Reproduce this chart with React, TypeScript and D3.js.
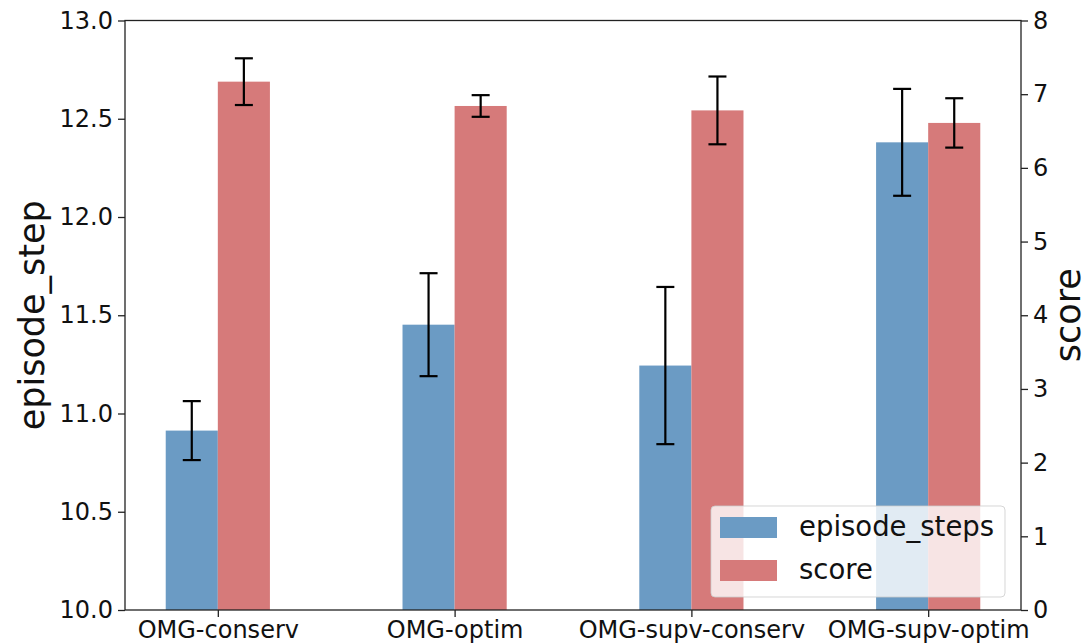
import React, { useEffect, useRef } from "react";
import * as d3 from "d3";

const categories = ["OMG-conserv", "OMG-optim", "OMG-supv-conserv", "OMG-supv-optim"];
const stepMeans = [10.913, 11.452, 11.244, 12.38];
const stepErrs = [0.15, 0.262, 0.4, 0.272];
const scoreMeans = [7.17, 6.84, 6.78, 6.61];
const scoreErrs = [0.317, 0.147, 0.46, 0.335];
const stepTicks = [10.0, 10.5, 11.0, 11.5, 12.0, 12.5, 13.0];
const scoreTicks = [0, 1, 2, 3, 4, 5, 6, 7, 8];

export default function App() {
  const ref = useRef<SVGSVGElement>(null);

  useEffect(() => {
    const svg = d3.select(ref.current);
    svg.selectAll("*").remove();

    const W = 1088, H = 644;
    const left = 125, right = 1021, top = 20.5, bottom = 610;
    const barW = 0.22;
    const font = "DejaVu Sans, sans-serif";
    const blue = "#6b9bc4";
    const red = "#d67a7a";

    svg.attr("width", W).attr("height", H);

    const x = d3.scaleLinear()
      .domain([-barW - 0.172, categories.length - 1 + barW + 0.172])
      .range([left, right]);
    const yL = d3.scaleLinear().domain([10, 13]).range([bottom, top]);
    const yR = d3.scaleLinear().domain([0, 8]).range([bottom, top]);
    const bw = x(barW) - x(0);

    const g = svg.append("g");

    // episode steps (left axis)
    g.selectAll(".step")
      .data(stepMeans)
      .enter()
      .append("rect")
      .attr("x", (d, i) => x(i - barW))
      .attr("y", (d) => yL(d))
      .attr("width", bw)
      .attr("height", (d) => bottom - yL(d))
      .attr("fill", blue);

    const errBar = (cx: number, y1: number, y2: number) => {
      const e = g.append("g").attr("stroke", "#000").attr("stroke-width", 2.2);
      e.append("line").attr("x1", cx).attr("x2", cx).attr("y1", y1).attr("y2", y2);
      e.append("line").attr("x1", cx - 9).attr("x2", cx + 9).attr("y1", y1).attr("y2", y1);
      e.append("line").attr("x1", cx - 9).attr("x2", cx + 9).attr("y1", y2).attr("y2", y2);
    };

    stepMeans.forEach((d, i) => {
      errBar(x(i - barW / 2), yL(d + stepErrs[i]), yL(d - stepErrs[i]));
    });

    // score (right axis)
    g.selectAll(".score")
      .data(scoreMeans)
      .enter()
      .append("rect")
      .attr("x", (d, i) => x(i))
      .attr("y", (d) => yR(d))
      .attr("width", bw)
      .attr("height", (d) => bottom - yR(d))
      .attr("fill", red);

    scoreMeans.forEach((d, i) => {
      errBar(x(i + barW / 2), yR(d + scoreErrs[i]), yR(d - scoreErrs[i]));
    });

    // axes
    const axL = svg.append("g").attr("transform", `translate(${left},0)`)
      .call(d3.axisLeft(yL).tickValues(stepTicks).tickFormat(d3.format(".1f")).tickSize(7).tickPadding(5));
    const axR = svg.append("g").attr("transform", `translate(${right},0)`)
      .call(d3.axisRight(yR).tickValues(scoreTicks).tickFormat(d3.format("d")).tickSize(7).tickPadding(5));
    const axB = svg.append("g").attr("transform", `translate(0,${bottom})`)
      .call(d3.axisBottom(x).tickValues(d3.range(categories.length))
        .tickFormat((d: any) => categories[d]).tickSize(7).tickPadding(4));

    [axL, axR, axB].forEach((a) => {
      a.select(".domain").remove();
      a.selectAll(".tick line").attr("stroke", "#222").attr("stroke-width", 1.3);
      a.selectAll(".tick text").attr("font-family", font).attr("font-size", 24).attr("fill", "#111");
    });

    // spines
    svg.append("rect")
      .attr("x", left).attr("y", top)
      .attr("width", right - left).attr("height", bottom - top)
      .attr("fill", "none").attr("stroke", "#222").attr("stroke-width", 1.3);

    // axis labels
    svg.append("text")
      .attr("transform", `translate(44,${(top + bottom) / 2}) rotate(-90)`)
      .attr("text-anchor", "middle")
      .attr("font-family", font).attr("font-size", 35).attr("fill", "#111")
      .text("episode_step");
    svg.append("text")
      .attr("transform", `translate(1080,${(top + bottom) / 2}) rotate(-90)`)
      .attr("text-anchor", "middle")
      .attr("font-family", font).attr("font-size", 35).attr("fill", "#111")
      .text("score");

    // legend
    const lg = svg.append("g");
    lg.append("rect")
      .attr("x", 711).attr("y", 506).attr("width", 294).attr("height", 91)
      .attr("rx", 4)
      .attr("fill", "#fff").attr("fill-opacity", 0.8)
      .attr("stroke", "#ccc").attr("stroke-opacity", 0.8);
    const items = [{ label: "episode_steps", color: blue }, { label: "score", color: red }];
    items.forEach((it, i) => {
      const yy = 517 + i * 43;
      lg.append("rect").attr("x", 720).attr("y", yy).attr("width", 57).attr("height", 21).attr("fill", it.color);
      lg.append("text")
        .attr("x", 799).attr("y", yy + 19)
        .attr("font-family", font).attr("font-size", 27.5).attr("fill", "#111")
        .text(it.label);
    });
  }, []);

  return (
    <svg ref={ref} style={{ position: "fixed", left: 0, top: 0, background: "#fff" }}></svg>
  );
}
